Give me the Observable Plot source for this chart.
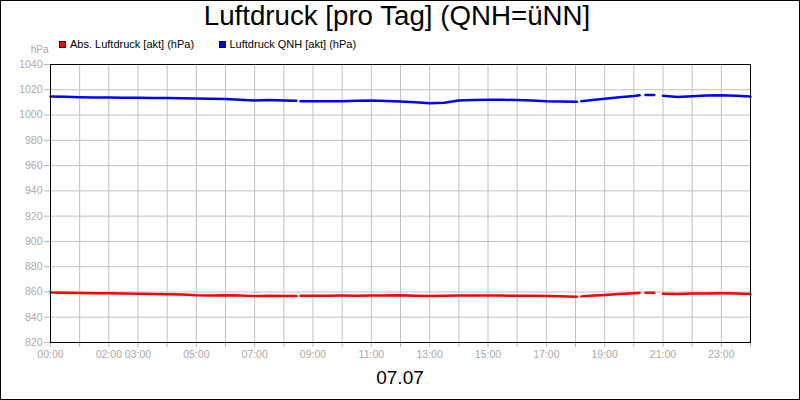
<!DOCTYPE html>
<html><head><meta charset="utf-8">
<script src="https://cdn.jsdelivr.net/npm/d3@7"></script>
<script src="https://cdn.jsdelivr.net/npm/@observablehq/plot@0.6"></script>
<style>
body{margin:0;background:#fff;}
#wrap{position:relative;width:800px;height:400px;overflow:hidden;font-family:"Liberation Sans",Arial,sans-serif;background:#fff;}
#chart svg{display:block;}
.t{position:absolute;white-space:nowrap;color:#000;}
.sq{position:absolute;width:7px;height:7px;box-sizing:border-box;border:1px solid #300;}
#border{position:absolute;left:0;top:0;width:800px;height:400px;box-sizing:border-box;border:1px solid #000;pointer-events:none;}
</style></head><body>
<div id="wrap">
<div id="chart"></div>
<div class="t" id="title" style="left:-3px;top:0;width:800px;text-align:center;font-size:27.7px;line-height:normal;"></div>
<div id="legend"></div>
<div class="t" id="date" style="left:0;top:367.5px;width:800px;text-align:center;font-size:19px;line-height:19px;"></div>
<div id="border"></div>
</div>
<script>
const titleText = "Luftdruck [pro Tag] (QNH=üNN]";
const dateText = "07.07";
const yUnit = "hPa";
const seriesNames = ["Abs. Luftdruck [akt] (hPa)", "Luftdruck QNH [akt] (hPa)"];
const seriesColors = ["#ff0000", "#0000ff"];

// time of day in hours (null values = gaps in the record)
const hours = [0,0.5,1,1.5,2,2.5,3,3.5,4,4.5,5,5.5,6,6.5,7,7.5,8,8.43,8.5,8.57,
  9,9.5,10,10.5,11,11.5,12,12.5,13,13.5,14,14.5,15,15.5,16,16.5,17,17.5,18,18.05,18.12,18.2,
  18.5,19,19.5,20,20.2,20.3,20.4,20.7,20.85,21,21.5,22,22.5,23,23.5,24];
const absPressure = [859.5,859.4,859.2,859.0,858.9,858.7,858.6,858.4,858.2,857.9,857.3,857.2,857.4,857.2,856.7,856.9,856.8,856.8,null,857.0,
  857.0,857.0,857.1,857.0,857.1,857.2,857.3,857.0,856.8,856.9,857.1,857.2,857.2,857.1,857.0,856.9,856.8,856.6,856.3,856.3,null,856.5,
  857.0,857.6,858.3,858.9,859.2,null,859.3,859.3,null,858.5,858.4,858.7,858.8,858.9,858.8,858.3];
const qnhPressure = [1014.7,1014.5,1014.1,1013.9,1013.8,1013.7,1013.7,1013.5,1013.4,1013.2,1013.1,1012.9,1012.6,1012.2,1011.5,1012.0,1011.6,1011.3,null,1011.0,
  1011.0,1011.0,1011.0,1011.3,1011.5,1011.1,1010.8,1010.1,1009.4,1009.8,1011.5,1011.9,1012.1,1012.1,1011.9,1011.5,1011.0,1010.8,1010.5,1010.5,null,1011.0,
  1011.8,1012.9,1014.0,1015.0,1015.6,null,1015.8,1015.8,null,1015.2,1014.2,1014.9,1015.5,1015.6,1015.2,1014.7];

const xTicks = d3.range(0, 25);
const xLabeled = [0,2,3,5,7,9,11,13,15,17,19,21,23];
const yTicks = d3.range(820, 1041, 20);

const rows = hours.map((h, i) => ({h, abs: absPressure[i], qnh: qnhPressure[i]}));

document.getElementById("title").textContent = titleText;
document.getElementById("date").textContent = dateText;

const legend = document.getElementById("legend");
const legendPos = [{sq: 58.5, tx: 70}, {sq: 218.5, tx: 229.5}];
seriesNames.forEach((name, i) => {
  const s = document.createElement("div");
  s.className = "sq";
  s.style.left = legendPos[i].sq + "px";
  s.style.top = "41px";
  s.style.background = seriesColors[i];
  legend.appendChild(s);
  const t = document.createElement("div");
  t.className = "t";
  t.style.left = legendPos[i].tx + "px";
  t.style.top = "38.5px";
  t.style.fontSize = "11px";
  t.style.lineHeight = "11px";
  t.textContent = name;
  legend.appendChild(t);
});

const pad = n => String(n).padStart(2, "0") + ":00";
const labelGray = "#a9a9a9";
const tickGray = "#b4b4b4";
const gridGray = "#c0c0c0";

const chart = Plot.plot({
  width: 800, height: 400,
  marginLeft: 50, marginRight: 50, marginTop: 64, marginBottom: 58,
  style: {fontFamily: "Liberation Sans, Arial, sans-serif", fontSize: "10.5px", background: "transparent", overflow: "visible"},
  x: {domain: [0, 24]},
  y: {domain: [820, 1040]},
  marks: [
    Plot.gridX(xTicks, {stroke: gridGray, strokeOpacity: 1}),
    Plot.gridY(yTicks, {stroke: gridGray, strokeOpacity: 1}),
    Plot.axisX(xTicks, {tickFormat: h => xLabeled.includes(h) ? pad(h) : "", tickSize: 5, tickPadding: 3.5, stroke: tickGray, fill: labelGray, label: null}),
    Plot.axisY(yTicks, {tickSize: 6, tickPadding: 2, stroke: tickGray, fill: labelGray, label: null, tickFormat: d => String(d)}),
    Plot.line(rows, {x: "h", y: "abs", stroke: seriesColors[0], strokeWidth: 2.5}),
    Plot.line(rows, {x: "h", y: "qnh", stroke: seriesColors[1], strokeWidth: 2.5}),
    Plot.frame({stroke: "#000", strokeWidth: 1}),
    Plot.text([yUnit], {frameAnchor: "top-left", text: d => d, dx: -2, dy: -12, textAnchor: "end", lineAnchor: "bottom", fill: labelGray, fontSize: 10})
  ]
});
document.getElementById("chart").appendChild(chart);
</script>
</body></html>
